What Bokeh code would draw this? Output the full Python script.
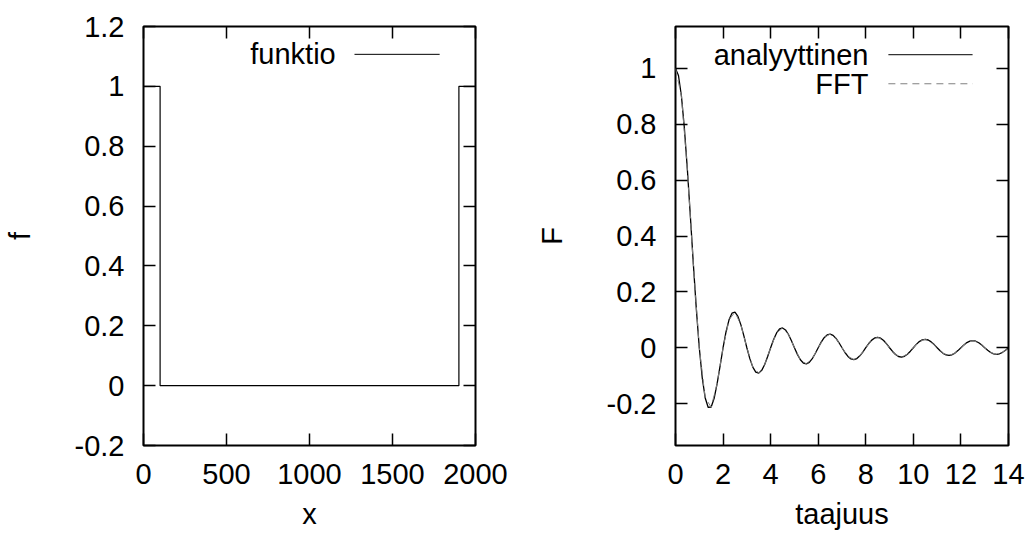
from bokeh.plotting import figure
from bokeh.layouts import row
from bokeh.models import FixedTicker, LinearAxis, Label, Arrow, Range1d
from bokeh.embed import file_html
from bokeh.resources import INLINE

# ---------------- data ----------------
# left panel: the box function
x_vals = [0, 100, 100, 1900, 1900, 2000]
f_vals = [1, 1, 0, 0, 1, 1]

# right panel: analytic transform (step 0.125) and FFT (step 0.25)
taajuus = [i / 8 for i in range(113)]
analyyttinen = [
    1.0000, 0.9745, 0.9003, 0.7842, 0.6366, 0.4705, 0.3001, 0.1392,
    0.0000, -0.1083, -0.1801, -0.2139, -0.2122, -0.1810, -0.1286, -0.0650,
    0.0000, 0.0573, 0.1000, 0.1238, 0.1273, 0.1120, 0.0818, 0.0424,
    0.0000, -0.0390, -0.0693, -0.0871, -0.0909, -0.0811, -0.0600, -0.0314,
    0.0000, 0.0295, 0.0530, 0.0672, 0.0707, 0.0636, 0.0474, 0.0250,
    0.0000, -0.0238, -0.0429, -0.0547, -0.0579, -0.0523, -0.0391, -0.0207,
    0.0000, 0.0199, 0.0360, 0.0461, 0.0490, 0.0444, 0.0333, 0.0177,
    0.0000, -0.0171, -0.0310, -0.0399, -0.0424, -0.0386, -0.0290, -0.0155,
    0.0000, 0.0150, 0.0273, 0.0351, 0.0374, 0.0341, 0.0257, 0.0137,
    0.0000, -0.0133, -0.0243, -0.0314, -0.0335, -0.0306, -0.0231, -0.0123,
    0.0000, 0.0120, 0.0220, 0.0283, 0.0303, 0.0277, 0.0209, 0.0112,
    0.0000, -0.0109, -0.0200, -0.0259, -0.0277, -0.0253, -0.0192, -0.0103,
    0.0000, 0.0100, 0.0184, 0.0238, 0.0255, 0.0233, 0.0177, 0.0095,
    0.0000, -0.0093, -0.0170, -0.0220, -0.0236, -0.0216, -0.0164, -0.0088,
    0.0000,
]
taajuus_fft = [i / 4 for i in range(57)]
fft_vals = [
    1.0000, 0.9003, 0.6366, 0.3001, 0.0000, -0.1801, -0.2122, -0.1286,
    0.0000, 0.1000, 0.1273, 0.0818, 0.0000, -0.0693, -0.0909, -0.0600,
    0.0000, 0.0530, 0.0707, 0.0474, 0.0000, -0.0429, -0.0579, -0.0391,
    0.0000, 0.0360, 0.0490, 0.0333, 0.0000, -0.0310, -0.0424, -0.0290,
    0.0000, 0.0273, 0.0374, 0.0257, 0.0000, -0.0243, -0.0335, -0.0231,
    0.0000, 0.0220, 0.0303, 0.0209, 0.0000, -0.0200, -0.0277, -0.0192,
    0.0000, 0.0184, 0.0256, 0.0178, 0.0000, -0.0172, -0.0238, -0.0166,
    0.0000,
]

# ticks and labels
left_xticks = [0, 500, 1000, 1500, 2000]
left_xlabels = ["0", "500", "1000", "1500", "2000"]
left_yticks = [-0.2, 0, 0.2, 0.4, 0.6, 0.8, 1, 1.2]
left_ylabels = ["-0.2", "0", "0.2", "0.4", "0.6", "0.8", "1", "1.2"]
right_xticks = [0, 2, 4, 6, 8, 10, 12, 14]
right_xlabels = ["0", "2", "4", "6", "8", "10", "12", "14"]
right_yticks = [-0.2, 0, 0.2, 0.4, 0.6, 0.8, 1]
right_ylabels = ["-0.2", "0", "0.2", "0.4", "0.6", "0.8", "1"]

FONT = "Liberation Sans"
FS = "29px"


def style_axis(ax, ticks, labels, show_labels=True, standoff=19):
    ax.ticker = FixedTicker(ticks=ticks)
    ax.major_label_overrides = dict(zip(ticks, labels))
    ax.major_tick_in = 12
    ax.major_tick_out = 0
    ax.minor_tick_in = 0
    ax.minor_tick_out = 0
    ax.major_tick_line_width = 1.5
    ax.major_tick_line_color = "black"
    ax.axis_line_color = None
    ax.major_label_text_font = FONT
    ax.axis_label_text_font = FONT
    ax.axis_label_text_font_size = FS
    ax.axis_label_text_font_style = "normal"
    ax.axis_label_text_color = "black"
    if show_labels:
        ax.major_label_text_color = "black"
        ax.major_label_text_font_size = FS
        ax.major_label_standoff = standoff
    else:
        # mirrored tick marks only (gnuplot style), labels not drawn
        ax.major_label_text_color = None
        ax.major_label_text_font_size = "1px"
        ax.major_label_standoff = 0


def make_fig(width, xr, yr, bl, br, xt, xl, yt, yl, xlabel, ylabel):
    p = figure(width=width, height=533, x_range=Range1d(*xr), y_range=Range1d(*yr),
               output_backend="svg", toolbar_location=None,
               min_border_left=bl, min_border_right=br,
               min_border_top=26, min_border_bottom=88)
    p.xgrid.visible = False
    p.ygrid.visible = False
    p.outline_line_color = "black"
    p.outline_line_width = 2
    p.background_fill_color = "white"
    p.border_fill_color = "white"
    style_axis(p.xaxis[0], xt, xl, standoff=18)
    style_axis(p.yaxis[0], yt, yl, standoff=19)
    p.xaxis[0].axis_label = xlabel
    p.xaxis[0].axis_label_standoff = 11
    p.yaxis[0].axis_label = ylabel
    p.yaxis[0].axis_label_standoff = 36
    top = LinearAxis()
    style_axis(top, xt, xl, show_labels=False)
    p.add_layout(top, "above")
    right = LinearAxis()
    style_axis(right, yt, yl, show_labels=False)
    p.add_layout(right, "right")
    return p


def text_label(x, y, text, align, baseline="middle"):
    return Label(x=x, y=y, text=text, text_align=align, text_baseline=baseline,
                 text_font=FONT, text_font_size=FS, text_color="black")


# ---------------- left panel ----------------
left = make_fig(512, (0, 2000), (-0.2, 1.2), 142, 37,
                left_xticks, left_xlabels, left_yticks, left_ylabels, "x", "f")
left.line(x_vals, f_vals, line_color="black", line_width=1.2)
left.add_layout(text_label(1158, 1.107, "funktio", "right"))
left.add_layout(Arrow(x_start=1271, y_start=1.107, x_end=1784, y_end=1.107,
                      start=None, end=None, line_color="black", line_width=1))

# ---------------- right panel ----------------
right = make_fig(513, (0, 14), (-0.35, 1.15), 163, 17,
                 right_xticks, right_xlabels, right_yticks, right_ylabels, "taajuus", "F")
right.line(taajuus, analyyttinen, line_color="black", line_width=1.3)
right.line(taajuus_fft, fft_vals, line_color="#808080", line_width=1, line_dash="7 5")
right.add_layout(text_label(8.11, 1.049, "analyyttinen", "right"))
right.add_layout(text_label(8.11, 0.945, "FFT", "right"))
right.add_layout(Arrow(x_start=8.95, y_start=1.049, x_end=12.49, y_end=1.049,
                       start=None, end=None, line_color="black", line_width=1))
right.add_layout(Arrow(x_start=8.95, y_start=0.945, x_end=12.49, y_end=0.945,
                       start=None, end=None, line_color="#808080", line_width=1,
                       line_dash="7 5"))

layout = row(left, right)
open("out.html", "w").write(file_html(layout, INLINE))
